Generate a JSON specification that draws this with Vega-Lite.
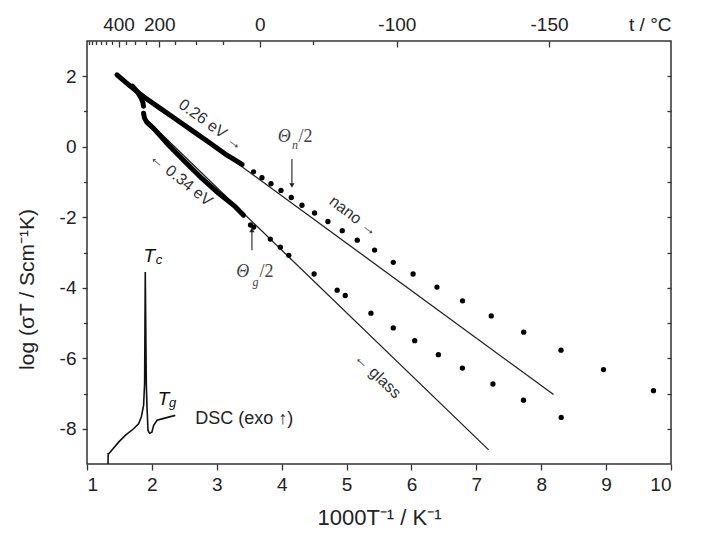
{
  "$schema": "https://vega.github.io/schema/vega-lite/v6.json",
  "width": 584,
  "height": 423,
  "autosize": "none",
  "padding": {"left": 87, "top": 41, "right": 30, "bottom": 77},
  "background": "white",
  "config": {
    "view": {"stroke": "#333", "strokeWidth": 1.5},
    "font": "Liberation Sans",
    "axis": {
      "domain": false, "grid": false,
      "labelFont": "Liberation Sans", "labelFontSize": 19, "labelColor": "#222",
      "tickColor": "#333", "tickWidth": 1.3,
      "titleFont": "Liberation Sans", "titleFontWeight": "normal", "titleColor": "#222", "titleFontSize": 22
    }
  },
  "datasets": {
    "nano": [
      {"x": 3.567, "y": -0.71}, {"x": 3.696, "y": -0.88}, {"x": 3.835, "y": -1.05}, {"x": 3.989, "y": -1.24},
      {"x": 4.148, "y": -1.44}, {"x": 4.313, "y": -1.66}, {"x": 4.507, "y": -1.88}, {"x": 4.713, "y": -2.12},
      {"x": 4.934, "y": -2.38}, {"x": 5.165, "y": -2.65}, {"x": 5.432, "y": -2.93}, {"x": 5.72, "y": -3.28},
      {"x": 6.025, "y": -3.61}, {"x": 6.393, "y": -3.98}, {"x": 6.787, "y": -4.37}, {"x": 7.23, "y": -4.8},
      {"x": 7.73, "y": -5.26}, {"x": 8.305, "y": -5.77}, {"x": 8.96, "y": -6.32}, {"x": 9.73, "y": -6.92}
    ],
    "glass": [
      {"x": 3.52, "y": -2.22}, {"x": 3.57, "y": -2.28}, {"x": 3.825, "y": -2.62}, {"x": 3.98, "y": -2.85},
      {"x": 4.11, "y": -3.08}, {"x": 4.5, "y": -3.61}, {"x": 4.855, "y": -4.07}, {"x": 4.98, "y": -4.22},
      {"x": 5.376, "y": -4.72}, {"x": 5.72, "y": -5.14}, {"x": 6.05, "y": -5.5}, {"x": 6.415, "y": -5.9},
      {"x": 6.785, "y": -6.28}, {"x": 7.256, "y": -6.73}, {"x": 7.727, "y": -7.19}, {"x": 8.308, "y": -7.68}
    ],
    "thick": [
      {"x": 1.462, "y": 2.04, "curve": "nano"}, {"x": 1.667, "y": 1.72, "curve": "nano"}, {"x": 1.872, "y": 1.42, "curve": "nano"},
      {"x": 2.129, "y": 1.09, "curve": "nano"}, {"x": 2.387, "y": 0.76, "curve": "nano"}, {"x": 2.643, "y": 0.43, "curve": "nano"},
      {"x": 2.9, "y": 0.1, "curve": "nano"}, {"x": 3.157, "y": -0.24, "curve": "nano"}, {"x": 3.39, "y": -0.5, "curve": "nano"},
      {"x": 1.7, "y": 1.72, "curve": "branch"}, {"x": 1.78, "y": 1.55, "curve": "branch"}, {"x": 1.83, "y": 1.4, "curve": "branch"},
      {"x": 1.862, "y": 1.25, "curve": "branch"}, {"x": 1.87, "y": 1.15, "curve": "branch"},
      {"x": 1.872, "y": 0.95, "curve": "glass"}, {"x": 1.885, "y": 0.82, "curve": "glass"}, {"x": 1.92, "y": 0.7, "curve": "glass"},
      {"x": 2.026, "y": 0.52, "curve": "glass"}, {"x": 2.257, "y": 0.05, "curve": "glass"}, {"x": 2.515, "y": -0.43, "curve": "glass"},
      {"x": 2.772, "y": -0.9, "curve": "glass"}, {"x": 3.028, "y": -1.32, "curve": "glass"}, {"x": 3.285, "y": -1.7, "curve": "glass"},
      {"x": 3.413, "y": -1.94, "curve": "glass"}
    ],
    "fit": [
      {"x": 1.46, "y": 2.03, "fit": "nano"}, {"x": 8.19, "y": -7.03, "fit": "nano"},
      {"x": 1.9, "y": 0.8, "fit": "glass"}, {"x": 7.19, "y": -8.6, "fit": "glass"}
    ],
    "dsc": [
      {"i": 1, "x": 1.324, "y": -9.0}, {"i": 2, "x": 1.326, "y": -8.71}, {"i": 3, "x": 1.335, "y": -8.71},
      {"i": 4, "x": 1.359, "y": -8.66}, {"i": 5, "x": 1.385, "y": -8.6}, {"i": 6, "x": 1.487, "y": -8.38},
      {"i": 7, "x": 1.59, "y": -8.19}, {"i": 8, "x": 1.718, "y": -8.0}, {"i": 9, "x": 1.795, "y": -7.86},
      {"i": 10, "x": 1.837, "y": -7.67}, {"i": 11, "x": 1.872, "y": -7.34}, {"i": 12, "x": 1.888, "y": -6.72},
      {"i": 13, "x": 1.898, "y": -3.55}, {"i": 14, "x": 1.914, "y": -6.72}, {"i": 15, "x": 1.925, "y": -7.39},
      {"i": 16, "x": 1.94, "y": -8.05}, {"i": 17, "x": 1.965, "y": -8.13}, {"i": 18, "x": 2.0, "y": -8.1},
      {"i": 19, "x": 2.026, "y": -7.91}, {"i": 20, "x": 2.079, "y": -7.76}, {"i": 21, "x": 2.156, "y": -7.72},
      {"i": 22, "x": 2.257, "y": -7.67}, {"i": 23, "x": 2.36, "y": -7.62}
    ],
    "arrows": [
      {"x": 4.158, "y": -0.35, "y2": -1.1, "dir": "down", "yh": -1.1},
      {"x": 3.542, "y": -2.935, "y2": -2.36, "dir": "up", "yh": -2.36}
    ]
  },
  "resolve": {"axis": {"x": "independent", "y": "independent"}},
  "layer": [
    {
      "data": {"name": "fit"},
      "mark": {"type": "line", "color": "#222", "strokeWidth": 1.3},
      "encoding": {
        "x": {"field": "x", "type": "quantitative", "scale": {"domain": [1, 10], "nice": false, "zero": false},
              "axis": {"orient": "bottom", "values": [1, 2, 3, 4, 5, 6, 7, 8, 9, 10], "labelExpr": "'' + datum.value", "tickSize": 6, "labelPadding": 5,
                       "title": "1000T⁻¹ / K⁻¹", "titleX": 292, "titleY": 60, "titleBaseline": "alphabetic", "titleAlign": "center"}},
        "y": {"field": "y", "type": "quantitative", "scale": {"domain": [-9, 3], "nice": false, "zero": false},
              "axis": {"orient": "left", "values": [-8, -6, -4, -2, 0, 2], "labelExpr": "'' + datum.value", "tickSize": 5, "labelPadding": 6,
                       "title": "log (σT / Scm⁻¹K)", "titleX": -60, "titleY": 248, "titleAngle": -90, "titleAlign": "center", "titleBaseline": "middle", "titleFontSize": 21}},
        "detail": {"field": "fit"}
      }
    },
    {
      "data": {"name": "nano"},
      "mark": {"type": "point", "filled": true, "color": "#000", "size": 28, "opacity": 1},
      "encoding": {
        "x": {"field": "x", "type": "quantitative", "scale": {"domain": [1, 10], "nice": false, "zero": false},
              "axis": {"orient": "top", "values": [1.48555, 2.11349, 3.66099, 5.77534, 8.12018], "ticks": false, "labelPadding": 7,
                       "labelExpr": "datum.value < 1.8 ? '400' : datum.value < 3 ? '200' : datum.value < 4.5 ? '0' : datum.value < 7 ? '-100' : '-150'",
                       "title": "t / °C", "titleX": 584, "titleY": -11, "titleAlign": "right", "titleAngle": 0,
                       "titleBaseline": "alphabetic", "titleFontSize": 19}},
        "y": {"field": "y", "type": "quantitative", "scale": {"domain": [-9, 3], "nice": false, "zero": false},
              "axis": {"orient": "right", "values": [-8, -7, -6, -5, -4, -3, -2, -1, 0, 1, 2], "tickSize": -4, "labels": false, "title": null}}
      }
    },
    {
      "data": {"name": "glass"},
      "mark": {"type": "point", "filled": true, "color": "#000", "size": 28, "opacity": 1},
      "encoding": {
        "x": {"field": "x", "type": "quantitative", "scale": {"domain": [1, 10], "nice": false, "zero": false},
              "axis": {"orient": "top", "values": [1.48555, 2.11349, 3.66099, 5.77534, 8.12018], "tickSize": -6, "labels": false, "title": null}},
        "y": {"field": "y", "type": "quantitative", "scale": {"domain": [-9, 3], "nice": false, "zero": false},
              "axis": {"orient": "left", "values": [-7, -5, -3, -1, 1], "tickSize": 3.5, "labels": false, "title": null}}
      }
    },
    {
      "data": {"name": "thick"},
      "mark": {"type": "line", "color": "#000", "strokeWidth": 5, "strokeCap": "round", "strokeJoin": "round"},
      "encoding": {
        "x": {"field": "x", "type": "quantitative", "scale": {"domain": [1, 10], "nice": false, "zero": false},
              "axis": {"orient": "top", "values": [1.02759, 1.08325, 1.14528, 1.21485, 1.29341, 1.38284, 1.60475, 1.7447, 1.9115, 2.36323, 2.67989, 3.09454, 4.48129],
                       "tickSize": -3.5, "labels": false, "title": null}},
        "y": {"field": "y", "type": "quantitative", "scale": {"domain": [-9, 3], "nice": false, "zero": false}, "axis": null},
        "detail": {"field": "curve"}
      }
    },
    {
      "data": {"name": "dsc"},
      "mark": {"type": "line", "color": "#111", "strokeWidth": 1.6},
      "encoding": {
        "x": {"field": "x", "type": "quantitative", "scale": {"domain": [1, 10], "nice": false, "zero": false}, "axis": null},
        "y": {"field": "y", "type": "quantitative", "scale": {"domain": [-9, 3], "nice": false, "zero": false}, "axis": null},
        "order": {"field": "i"}
      }
    },
    {
      "data": {"name": "arrows"},
      "mark": {"type": "rule", "color": "#222", "strokeWidth": 1.1},
      "encoding": {
        "x": {"field": "x", "type": "quantitative", "axis": null},
        "y": {"field": "y", "type": "quantitative", "axis": null},
        "y2": {"field": "y2"}
      }
    },
    {
      "data": {"name": "arrows"},
      "mark": {"type": "point", "filled": true, "color": "#222", "size": 28, "opacity": 1},
      "encoding": {
        "x": {"field": "x", "type": "quantitative", "axis": null},
        "y": {"field": "yh", "type": "quantitative", "axis": null},
        "shape": {"field": "dir", "type": "nominal", "scale": {"domain": ["down", "up"], "range": ["triangle-down", "triangle-up"]}, "legend": null}
      }
    },
    {
      "data": {"values": [{"x": 2.91, "y": 0.62, "t": "0.26 eV →"}]},
      "mark": {"type": "text", "angle": 36, "fontSize": 16, "color": "#333", "align": "center", "baseline": "middle"},
      "encoding": {"x": {"field": "x", "type": "quantitative", "axis": null}, "y": {"field": "y", "type": "quantitative", "axis": null}, "text": {"field": "t"}}
    },
    {
      "data": {"values": [{"x": 2.448, "y": -0.92, "t": "← 0.34 eV"}]},
      "mark": {"type": "text", "angle": 39, "fontSize": 16, "color": "#333", "align": "center", "baseline": "middle"},
      "encoding": {"x": {"field": "x", "type": "quantitative", "axis": null}, "y": {"field": "y", "type": "quantitative", "axis": null}, "text": {"field": "t"}}
    },
    {
      "data": {"values": [{"x": 5.108, "y": -1.97, "t": "nano →"}]},
      "mark": {"type": "text", "angle": 37, "fontSize": 16, "color": "#333", "align": "center", "baseline": "middle"},
      "encoding": {"x": {"field": "x", "type": "quantitative", "axis": null}, "y": {"field": "y", "type": "quantitative", "axis": null}, "text": {"field": "t"}}
    },
    {
      "data": {"values": [{"x": 5.478, "y": -6.49, "t": "← glass"}]},
      "mark": {"type": "text", "angle": 44, "fontSize": 16, "color": "#333", "align": "center", "baseline": "middle"},
      "encoding": {"x": {"field": "x", "type": "quantitative", "axis": null}, "y": {"field": "y", "type": "quantitative", "axis": null}, "text": {"field": "t"}}
    },
    {
      "data": {"values": [{"x": 2.669, "y": -7.716, "t": "DSC (exo ↑)"}]},
      "mark": {"type": "text", "fontSize": 18, "color": "#222", "align": "left", "baseline": "middle"},
      "encoding": {"x": {"field": "x", "type": "quantitative", "axis": null}, "y": {"field": "y", "type": "quantitative", "axis": null}, "text": {"field": "t"}}
    },
    {
      "data": {"values": [{"x": 3.94, "y": 0.142, "t": "Θ"}, {"x": 3.3, "y": -3.693, "t": "Θ"}]},
      "mark": {"type": "text", "font": "Liberation Serif", "fontStyle": "italic", "fontSize": 18, "color": "#444", "align": "left", "baseline": "alphabetic"},
      "encoding": {"x": {"field": "x", "type": "quantitative", "axis": null}, "y": {"field": "y", "type": "quantitative", "axis": null}, "text": {"field": "t"}}
    },
    {
      "data": {"values": [{"x": 4.26, "y": 0.142, "t": "/2"}, {"x": 3.66, "y": -3.693, "t": "/2"}]},
      "mark": {"type": "text", "font": "Liberation Serif", "fontSize": 18, "color": "#444", "align": "left", "baseline": "alphabetic"},
      "encoding": {"x": {"field": "x", "type": "quantitative", "axis": null}, "y": {"field": "y", "type": "quantitative", "axis": null}, "text": {"field": "t"}}
    },
    {
      "data": {"values": [{"x": 4.16, "y": -0.05, "t": "n"}, {"x": 3.55, "y": -3.95, "t": "g"}]},
      "mark": {"type": "text", "font": "Liberation Serif", "fontStyle": "italic", "fontSize": 12, "color": "#444", "align": "left", "baseline": "alphabetic"},
      "encoding": {"x": {"field": "x", "type": "quantitative", "axis": null}, "y": {"field": "y", "type": "quantitative", "axis": null}, "text": {"field": "t"}}
    },
    {
      "data": {"values": [{"x": 1.96, "y": -3.276, "t": "T"}, {"x": 2.18, "y": -7.338, "t": "T"}]},
      "mark": {"type": "text", "fontStyle": "italic", "fontSize": 19, "color": "#111", "align": "center", "baseline": "alphabetic"},
      "encoding": {"x": {"field": "x", "type": "quantitative", "axis": null}, "y": {"field": "y", "type": "quantitative", "axis": null}, "text": {"field": "t"}}
    },
    {
      "data": {"values": [{"x": 2.06, "y": -3.33, "t": "c"}, {"x": 2.265, "y": -7.39, "t": "g"}]},
      "mark": {"type": "text", "fontStyle": "italic", "fontSize": 13, "color": "#111", "align": "left", "baseline": "alphabetic"},
      "encoding": {"x": {"field": "x", "type": "quantitative", "axis": null}, "y": {"field": "y", "type": "quantitative", "axis": null}, "text": {"field": "t"}}
    }
  ]
}
